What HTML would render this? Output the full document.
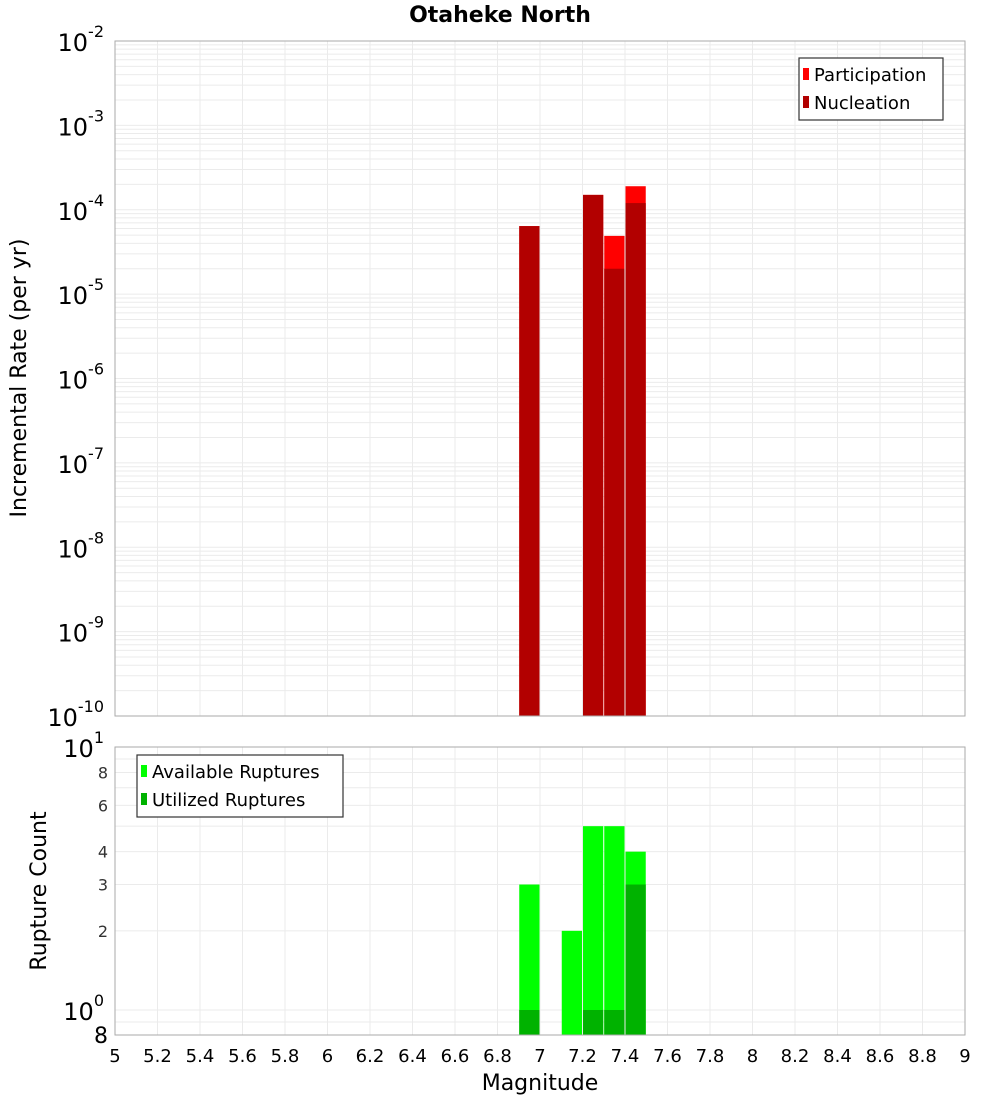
<!DOCTYPE html>
<html><head><meta charset="utf-8"><style>
body{margin:0;background:#fff;}
svg{display:block;font-family:"DejaVu Sans","Liberation Sans",sans-serif;}
</style></head><body>
<svg id="c" width="1000" height="1100" xmlns="http://www.w3.org/2000/svg">
<text x="500" y="22" text-anchor="middle" font-size="22" font-weight="bold">Otaheke North</text>
<g id="top"></g>
<g id="bot"></g>
<text transform="translate(26,378) rotate(-90)" text-anchor="middle" font-size="22">Incremental Rate (per yr)</text>
<text transform="translate(46,891) rotate(-90)" text-anchor="middle" font-size="22">Rupture Count</text>
<text x="540" y="1090" text-anchor="middle" font-size="22">Magnitude</text>
</svg>
<script>
const mags = [6.95, 7.25, 7.35, 7.45];
const participation = [6.4e-5, 1.5e-4, 4.9e-5, 1.9e-4];
const nucleation = [6.4e-5, 1.5e-4, 2.0e-5, 1.2e-4];
const countMags = [6.95, 7.15, 7.25, 7.35, 7.45];
const available = [3, 2, 5, 5, 4];
const utilized = [1, 0, 1, 1, 3];
const xTicks = [5,5.2,5.4,5.6,5.8,6,6.2,6.4,6.6,6.8,7,7.2,7.4,7.6,7.8,8,8.2,8.4,8.6,8.8,9];
const rateDecades = [-10,-9,-8,-7,-6,-5,-4,-3,-2];
const countTicks = [2,3,4,6,8];

const NS="http://www.w3.org/2000/svg";
const L=115,R=965;
const x=m=>L+(m-5)/4*(R-L);
const T0=41,T1=716;
const yT=v=>T0+(-2-Math.log10(v))/8*(T1-T0);
const B0=747,B1=1035;
const yB=v=>1010-Math.log10(v)*263;
function mk(p,tag,a,txt){const e=document.createElementNS(NS,tag);for(const k in a)e.setAttribute(k,a[k]);if(txt!==undefined)e.textContent=txt;p.appendChild(e);return e;}
const gTop=document.getElementById('top'),gBot=document.getElementById('bot');

for(let d=-10;d<-2;d++)for(let k=1;k<10;k++){const y=yT(k*Math.pow(10,d));
 const g=mk(gTop,'line',{x1:L,x2:R,y1:y,y2:y,stroke:'#ebebeb','stroke-width':1});
 
 }
xTicks.forEach(t=>{[gTop,gBot].forEach((p,i)=>{const g=mk(p,'line',{x1:x(t),x2:x(t),y1:i?B0:T0,y2:i?B1:T1,stroke:'#ebebeb'});
 
 });});
[0.9,1,2,3,4,5,6,7,8,9].forEach(v=>{const g=mk(gBot,'line',{x1:L,x2:R,y1:yB(v),y2:yB(v),stroke:'#ebebeb'});
 
 });

mags.forEach((m,i)=>{
 const x0=x(m-0.05)+0.5,w=x(m+0.05)-x(m-0.05)-1;
 const yp=yT(participation[i]);
 const b=mk(gTop,'rect',{x:x0,y:yp,width:w,height:T1-yp,fill:'#ff0000'});
 
 
 const yn=yT(nucleation[i]);
 const n=mk(gTop,'rect',{x:x0,y:yn,width:w,height:T1-yn,fill:'#b20000'});
 
 
});
countMags.forEach((m,i)=>{
 const x0=x(m-0.05)+0.5,w=x(m+0.05)-x(m-0.05)-1;
 const ya=yB(available[i]);
 const b=mk(gBot,'rect',{x:x0,y:ya,width:w,height:B1-ya,fill:'#00ff00'});
 
 
 if(utilized[i]>0){const yu=yB(utilized[i]);
 const u=mk(gBot,'rect',{x:x0,y:yu,width:w,height:B1-yu,fill:'#00b200'});
 
 }
});
mk(gTop,'rect',{x:L,y:T0,width:R-L,height:T1-T0,fill:'none',stroke:'#aaa'});
mk(gBot,'rect',{x:L,y:B0,width:R-L,height:B1-B0,fill:'none',stroke:'#aaa'});
rateDecades.forEach(d=>{const y=yT(Math.pow(10,d));
 const t=mk(gTop,'text',{x:104,y:y+10,'text-anchor':'end','font-size':24});
 
 
 t.textContent='10';
 mk(t,'tspan',{dy:-14,'font-size':16},String(d));
});
countTicks.forEach(v=>{const t=mk(gBot,'text',{x:108,y:yB(v)+6,'text-anchor':'end','font-size':16,fill:'#333'},String(v));
 
 });
[[10,'10','1',747],[1,'10','0',1010]].forEach(a=>{const t=mk(gBot,'text',{x:104,y:a[3]+10,'text-anchor':'end','font-size':24},a[1]);
 mk(t,'tspan',{dy:-14,'font-size':16},a[2]);
 
 });
{const t=mk(gBot,'text',{x:108,y:1043,'text-anchor':'end','font-size':22},'8');
 
 }
xTicks.forEach(v=>{const t=mk(gBot,'text',{x:x(v),y:1062,'text-anchor':'middle','font-size':18},String(v));
 
 });
function legend(p,lx,ly,w,items,name){const g=mk(p,'g',{});
 
 
 mk(g,'rect',{x:lx,y:ly,width:w,height:items.length*28+6,fill:'#fff',stroke:'#333','stroke-width':1.2});
 items.forEach((it,i)=>{mk(g,'rect',{x:lx+4,y:ly+10+i*28,width:6,height:12,fill:it[1]});
 const t=mk(g,'text',{x:lx+15,y:ly+23+i*28,'font-size':18},it[0]);
 
 });}
legend(gTop,799,58,144,[['Participation','#ff0000'],['Nucleation','#b20000']],'rate-legend');
legend(gBot,137,755,206,[['Available Ruptures','#00ff00'],['Utilized Ruptures','#00b200']],'count-legend');
</script>
</body></html>
